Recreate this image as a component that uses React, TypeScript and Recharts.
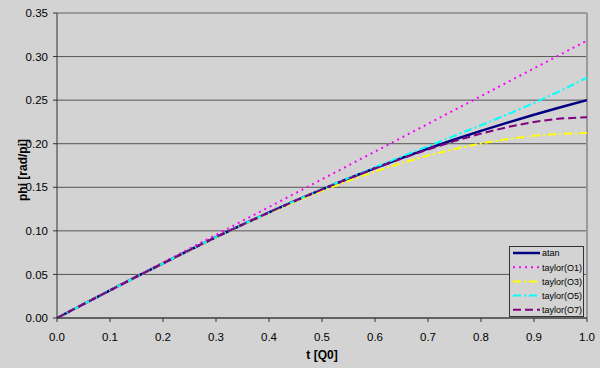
import React from "react";
import { LineChart, Line, XAxis, YAxis, CartesianGrid, ReferenceLine } from "recharts";

const tValues = [0, 0.05, 0.1, 0.15, 0.2, 0.25, 0.3, 0.35, 0.4, 0.45, 0.5, 0.55, 0.6, 0.65, 0.7, 0.75, 0.8, 0.85, 0.9, 0.95, 1.0];
const atanValues = [0, 0.0159, 0.0317, 0.0474, 0.0628, 0.078, 0.0928, 0.1072, 0.1211, 0.1346, 0.1476, 0.1601, 0.172, 0.1835, 0.1944, 0.2048, 0.2148, 0.2242, 0.2333, 0.2418, 0.25];
const taylorO1 = [0, 0.0159, 0.0318, 0.0477, 0.0637, 0.0796, 0.0955, 0.1114, 0.1273, 0.1432, 0.1592, 0.1751, 0.191, 0.2069, 0.2228, 0.2387, 0.2546, 0.2706, 0.2865, 0.3024, 0.3183];
const taylorO3 = [0, 0.0159, 0.0317, 0.0474, 0.0628, 0.0779, 0.0926, 0.1069, 0.1205, 0.1336, 0.1459, 0.1574, 0.1681, 0.1778, 0.1864, 0.194, 0.2003, 0.2054, 0.2091, 0.2114, 0.2122];
const taylorO5 = [0, 0.0159, 0.0317, 0.0474, 0.0628, 0.078, 0.0928, 0.1072, 0.1212, 0.1347, 0.1479, 0.1606, 0.173, 0.1852, 0.1971, 0.2091, 0.2212, 0.2337, 0.2467, 0.2607, 0.2759];
const taylorO7 = [0, 0.0159, 0.0317, 0.0474, 0.0628, 0.078, 0.0928, 0.1072, 0.1211, 0.1346, 0.1475, 0.1599, 0.1717, 0.1829, 0.1934, 0.203, 0.2116, 0.2191, 0.225, 0.2289, 0.2304];

const xTicks = [0, 0.1, 0.2, 0.3, 0.4, 0.5, 0.6, 0.7, 0.8, 0.9, 1.0];
const yTicks = [0, 0.05, 0.1, 0.15, 0.2, 0.25, 0.3, 0.35];

const data = tValues.map((t, i) => ({
  t,
  atan: atanValues[i],
  o1: taylorO1[i],
  o3: taylorO3[i],
  o5: taylorO5[i],
  o7: taylorO7[i],
}));

const series = [
  { key: "atan", name: "atan", color: "#000080", width: 2.5, dash: undefined as string | undefined },
  { key: "o1", name: "taylor(O1)", color: "#FF00FF", width: 2, dash: "2 4" },
  { key: "o3", name: "taylor(O3)", color: "#FFFF00", width: 2, dash: "8 3 2 3" },
  { key: "o5", name: "taylor(O5)", color: "#00FFFF", width: 2, dash: "8 3 2 3" },
  { key: "o7", name: "taylor(O7)", color: "#800080", width: 2, dash: "8 4" },
];

const BG = "#D3D3D3";
const FONT = "'Liberation Sans', Arial, sans-serif";

const LegendBox = () => (
  <div
    style={{
      position: "absolute",
      left: 509,
      top: 246,
      width: 75,
      height: 71,
      border: "1px solid #333",
      background: BG,
      boxSizing: "border-box",
    }}
  >
    <svg width={73} height={69} style={{ display: "block" }}>
      {series.map((s, i) => {
        const y = 6 + i * 14.2;
        return (
          <g key={s.key}>
            <line x1={3} x2={30} y1={y} y2={y} stroke={s.color} strokeWidth={s.key === "atan" ? 2.5 : 2} strokeDasharray={s.dash} />
            <text x={32} y={y + 3.3} fontSize={9} fontFamily={FONT} fill="#000">
              {s.name}
            </text>
          </g>
        );
      })}
    </svg>
  </div>
);

export default function App() {
  return (
    <div style={{ position: "absolute", left: 0, top: 0, width: 600, height: 368, background: BG }}>
      <LineChart width={600} height={368} data={data} margin={{ top: 13, right: 13, bottom: 20, left: 0 }}>
        <CartesianGrid horizontal vertical={false} stroke="#555" strokeWidth={1} />
        <ReferenceLine y={0.35} stroke="#999" strokeWidth={2} />
        <ReferenceLine x={1} stroke="#999" strokeWidth={2} />
        <XAxis
          dataKey="t"
          type="number"
          domain={[0, 1]}
          ticks={xTicks}
          tickFormatter={(v: number) => v.toFixed(1)}
          height={30}
          tickSize={4}
          tickMargin={11}
          stroke="#333"
          tick={{ fill: "#000", fontSize: 11.5, fontFamily: FONT }}
          label={{
            content: () => (
              <text x={322} y={359} textAnchor="middle" fontSize={12} fontWeight="bold" fontFamily={FONT} fill="#000">
                t [Q0]
              </text>
            ),
          }}
        />
        <YAxis
          type="number"
          domain={[0, 0.35]}
          ticks={yTicks}
          tickFormatter={(v: number) => v.toFixed(2)}
          width={57}
          tickSize={4}
          tickMargin={5}
          stroke="#333"
          tick={{ fill: "#000", fontSize: 11.5, fontFamily: FONT }}
          label={{
            content: () => (
              <text x={27} y={170} transform="rotate(-90 27 170)" textAnchor="middle" fontSize={12} fontWeight="bold" fontFamily={FONT} fill="#000">
                phi [rad/pi]
              </text>
            ),
          }}
        />
        {series.map((s) => (
          <Line
            key={s.key}
            type="linear"
            dataKey={s.key}
            name={s.name}
            stroke={s.color}
            strokeWidth={s.width}
            strokeDasharray={s.dash}
            dot={false}
            activeDot={false}
            isAnimationActive={false}
          />
        ))}
      </LineChart>
      <LegendBox />
    </div>
  );
}
